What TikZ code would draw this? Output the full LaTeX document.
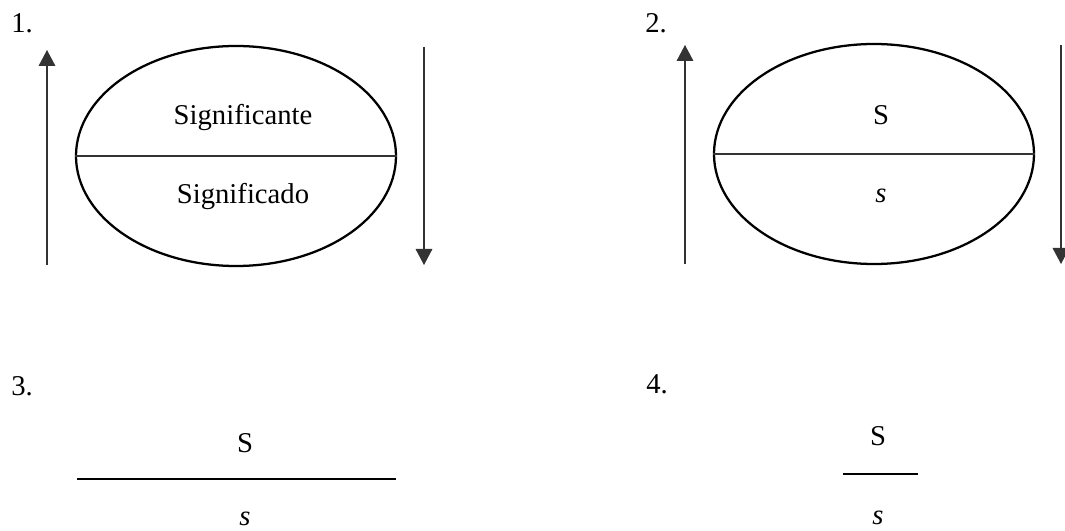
\documentclass[tikz,border=0pt]{standalone}
\usepackage{fontspec}
\setmainfont{Liberation Serif}
\usetikzlibrary{arrows.meta,shapes.geometric}
\begin{document}
\begin{tikzpicture}[x=0.75pt,y=-0.75pt,
  lbl/.style={inner sep=0pt,anchor=base,font=\fontsize{21.5}{26}\selectfont},
  oval/.style={draw=black,line width=1.7pt,ellipse,inner sep=0pt,minimum width=240pt,minimum height=165pt},
  thin/.style={draw=black!80,line width=0.8pt},
  arr/.style={thin,-{Triangle[width=12.5pt,length=12pt]}}]
\useasboundingbox (0,0) rectangle (1065,531);
% panel 1
\node[lbl,anchor=base west] (n1) at (11,33) {1.};
\node[oval] (e1) at (236,156) {};
\draw[thin] (e1.west) -- (e1.east);
\node[lbl] (t1a) at (243,125) {Significante};
\node[lbl] (t1b) at (243,204) {Significado};
\coordinate (u1s) at (47,265); \coordinate (u1e) at (47,50);
\coordinate (d1s) at (424,47); \coordinate (d1e) at (424,265);
\draw[arr] (u1s) -- (u1e);
\draw[arr] (d1s) -- (d1e);
% panel 2
\node[lbl,anchor=base west] (n2) at (645,33) {2.};
\node[oval] (e2) at (874,154) {};
\draw[thin] (e2.west) -- (e2.east);
\node[lbl] (t2a) at (881,125) {S};
\node[lbl] (t2b) at (881,203) {\textit{s}};
\coordinate (u2s) at (685,264); \coordinate (u2e) at (685,45);
\coordinate (d2s) at (1061,45); \coordinate (d2e) at (1061,264);
\draw[arr] (u2s) -- (u2e);
\draw[arr] (d2s) -- (d2e);
% panel 3
\node[lbl,anchor=base west] (n3) at (11,395) {3.};
\node[lbl] (t3a) at (245,452) {S};
\coordinate (l3a) at (77,479); \coordinate (l3b) at (396,479);
\draw[draw=black,line width=1pt] (l3a) -- (l3b);
\node[lbl] (t3b) at (245,525) {\textit{s}};
% panel 4
\node[lbl,anchor=base west] (n4) at (646,393) {4.};
\node[lbl] (t4a) at (878,445) {S};
\coordinate (l4a) at (843,474); \coordinate (l4b) at (918,474);
\draw[draw=black,line width=2pt] (l4a) -- (l4b);
\node[lbl] (t4b) at (878,524) {\textit{s}};
\end{tikzpicture}
\end{document}
